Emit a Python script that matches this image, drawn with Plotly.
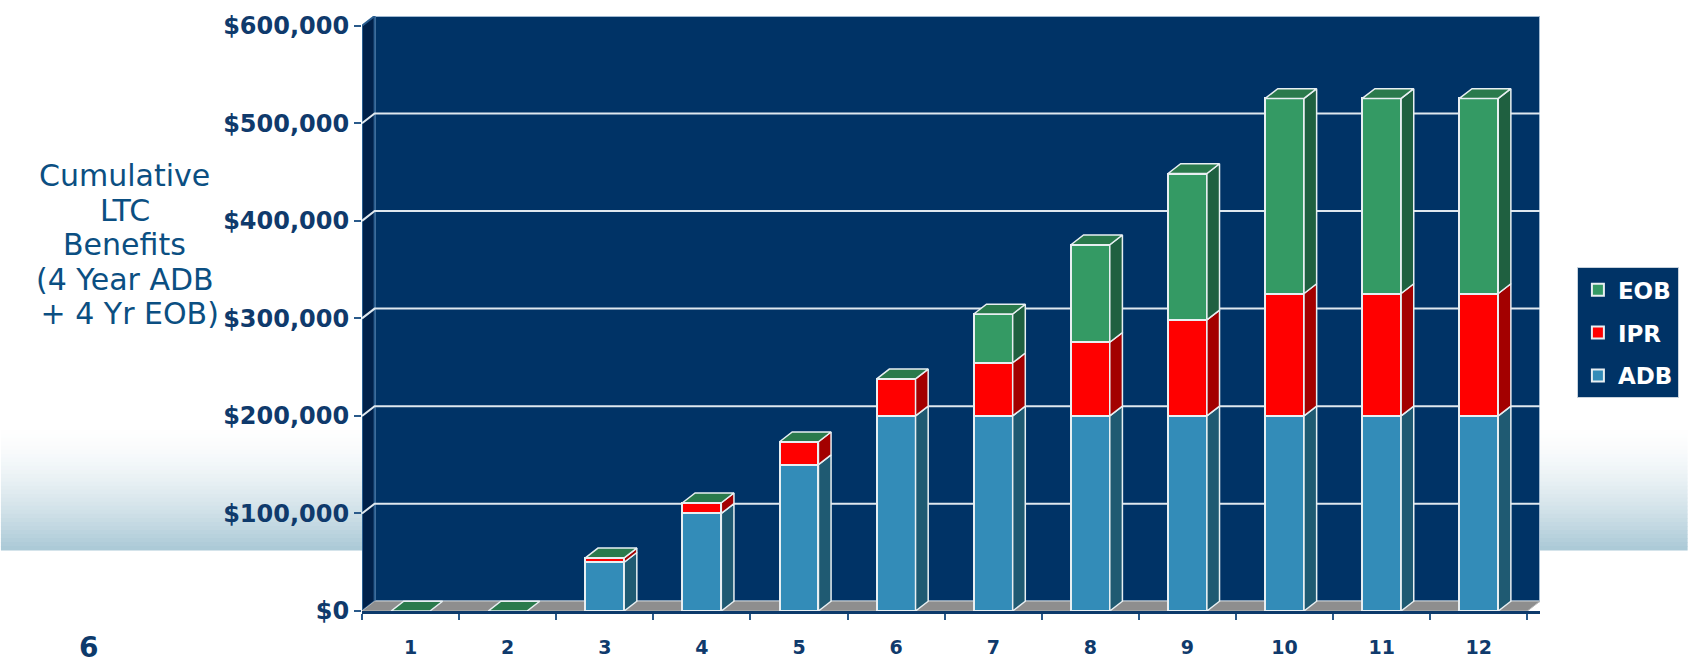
import plotly.graph_objects as go

# ---------------- data ----------------
categories = list(range(1, 13))
x_tick_labels = [str(c) for c in categories]
adb = [0, 0, 50000, 100000, 150000, 200000, 200000, 200000, 200000, 200000, 200000, 200000]
ipr = [0, 0, 4500, 11000, 23500, 38000, 54500, 75500, 98500, 125500, 125500, 125500]
eob = [0, 0, 0, 0, 0, 0, 50000, 100000, 150000, 200000, 200000, 200000]
y_ticks = [0, 100000, 200000, 300000, 400000, 500000, 600000]
y_tick_labels = ["$0", "$100,000", "$200,000", "$300,000", "$400,000", "$500,000", "$600,000"]
series_names = ["ADB", "IPR", "EOB"]
legend_rank = {"EOB": 1, "IPR": 2, "ADB": 3}
title_lines = ["Cumulative", "LTC", "Benefits", "(4 Year ADB", " + 4 Yr EOB)"]

# ---------------- style ----------------
W, H = 1691, 670
L, R, T, B = 362, 148, 15, 51
PW, PH = W - L - R, H - T - B
BW = 0.40          # bar front width (category units)
DX = 0.13          # depth offset in x (category units)
DY = 10000         # depth offset in y (value units)
EDGE = "#e8eff2"
NAVY = "#003366"
LABEL = "#0f3a6c"
front_col = {"ADB": "#338cb8", "IPR": "#ff0000", "EOB": "#349a64"}
side_col = {"ADB": "#1f5a72", "IPR": "#a30000", "EOB": "#1f6040"}
top_col = {"ADB": "#2b7799", "IPR": "#c80000", "EOB": "#2a7a4c"}

values = {"ADB": adb, "IPR": ipr, "EOB": eob}

fig = go.Figure()

# front faces via stacked bars
for name in series_names:
    fig.add_trace(go.Bar(
        x=categories, y=values[name], name=name, width=BW,
        legendgroup=name, legendrank=legend_rank[name],
        marker=dict(color=front_col[name], line=dict(color=EDGE, width=2)),
        hoverinfo="skip",
    ))

# side faces (computed from data)
bases = [0] * len(categories)
for name in series_names:
    xs, ys = [], []
    for i, c in enumerate(categories):
        b = bases[i]
        t = b + values[name][i]
        if t > b:
            xr = c + BW / 2
            xs += [xr, xr + DX, xr + DX, xr, xr, None]
            ys += [b, b + DY, t + DY, t, b, None]
        bases[i] = t
    fig.add_trace(go.Scatter(
        x=xs, y=ys, mode="lines", fill="toself", fillcolor=side_col[name],
        line=dict(color=EDGE, width=1.5), showlegend=False, hoverinfo="skip",
    ))

# top faces
totals = [a + b + c for a, b, c in zip(adb, ipr, eob)]
xs, ys = [], []
for c, tot in zip(categories, totals):
    xl, xr = c - BW / 2, c + BW / 2
    xs += [xl, xl + DX, xr + DX, xr, xl, None]
    ys += [tot, tot + DY, tot + DY, tot, tot, None]
fig.add_trace(go.Scatter(
    x=xs, y=ys, mode="lines", fill="toself", fillcolor=top_col["EOB"],
    line=dict(color=EDGE, width=1.5), showlegend=False, hoverinfo="skip",
))

# ---------------- background shapes ----------------
shapes = []

def px_to_py(py):
    return (H - B - py) / PH

def px_to_px(px):
    return (px - L) / PW

# light gradient band across the page
y_top, y_bot = 435, 557
steps = 30
c0 = (255, 255, 255)
c1 = (172, 202, 215)
for k in range(steps):
    t = (k + 1) / steps
    t2 = t ** 1.6
    col = tuple(int(c0[j] + (c1[j] - c0[j]) * t2) for j in range(3))
    ya = y_top + (y_bot - y_top) * k / steps
    yb = y_top + (y_bot - y_top) * (k + 1) / steps + 0.6
    shapes.append(dict(type="rect", xref="paper", yref="paper", layer="below",
                       x0=px_to_px(0), x1=px_to_px(W), y0=px_to_py(yb), y1=px_to_py(ya),
                       fillcolor="rgb(%d,%d,%d)" % col, line=dict(width=0)))

x_lo, x_hi = 0.5, categories[-1] + 0.5
y_max = y_ticks[-1]
# back wall
shapes.append(dict(type="rect", xref="x", yref="y", layer="below",
                   x0=x_lo + DX, x1=x_hi + DX, y0=DY, y1=y_max + DY,
                   fillcolor=NAVY, line=dict(color="#9fb8d0", width=2)))
# left wall
shapes.append(dict(type="path", xref="x", yref="y", layer="below",
                   path="M %f,%f L %f,%f L %f,%f L %f,%f Z" % (
                       x_lo, 0, x_lo + DX, DY, x_lo + DX, y_max + DY, x_lo, y_max),
                   fillcolor="#00214a", line=dict(color="#2a5e90", width=2)))
# gridlines on walls
for v in y_ticks[1:-1]:
    shapes.append(dict(type="path", xref="x", yref="y", layer="below",
                       path="M %f,%f L %f,%f L %f,%f" % (
                           x_lo, v, x_lo + DX, v + DY, x_hi + DX, v + DY),
                       line=dict(color="#dfe8ef", width=2)))
# floor
shapes.append(dict(type="path", xref="x", yref="y", layer="below",
                   path="M %f,%f L %f,%f L %f,%f L %f,%f Z" % (
                       x_lo, 0, x_lo + DX, DY, x_hi + DX, DY, x_hi, 0),
                   fillcolor="#8e8e8e", line=dict(color="#b8b8b8", width=1)))

fig.update_layout(shapes=shapes)

# ---------------- text ----------------
line_y0, line_step = 177, 35
for k, txt in enumerate(title_lines):
    fig.add_annotation(
        xref="paper", yref="paper", x=px_to_px(124), y=px_to_py(line_y0 + k * line_step),
        text=txt, showarrow=False, align="center", xanchor="center", yanchor="middle",
        font=dict(family="DejaVu Sans", size=30, color="#0b4f82"),
    )
fig.add_annotation(
    xref="paper", yref="paper", x=px_to_px(88), y=px_to_py(656),
    text="6", showarrow=False, xanchor="center", yanchor="middle",
    font=dict(family="DejaVu Sans", size=28, color="#0d3a6b", weight="bold"),
)

fig.update_layout(
    width=W, height=H,
    margin=dict(l=L, r=R, t=T, b=B, pad=0),
    paper_bgcolor="white", plot_bgcolor="rgba(0,0,0,0)",
    barmode="stack",
    showlegend=True,
    legend=dict(
        x=px_to_px(1580), y=px_to_py(270), xanchor="left", yanchor="top",
        bgcolor=NAVY, bordercolor="#c8d2dc", borderwidth=1,
        traceorder="grouped", tracegroupgap=10,
        font=dict(family="DejaVu Sans", size=23, color="white", weight="bold"),
        itemwidth=30,
    ),
    xaxis=dict(
        range=[x_lo, x_hi + DX], tickmode="array", tickvals=categories, ticktext=x_tick_labels,
        ticks="", showgrid=False, zeroline=False, showline=True,
        linecolor="#0d3a6b", linewidth=3,
        minor=dict(tickmode="array", tickvals=[c - 0.5 for c in categories] + [x_hi],
                   ticks="outside", ticklen=6, tickcolor="#2a5a8a", tickwidth=2, showgrid=False),
        tickfont=dict(family="DejaVu Sans", size=19, color=LABEL, weight="bold"),
        ticklabelstandoff=17, fixedrange=True,
    ),
    yaxis=dict(
        range=[0, y_max + DY], tickmode="array", tickvals=y_ticks, ticktext=y_tick_labels,
        ticks="outside", ticklen=7, tickcolor="#2a5a8a", tickwidth=2,
        showgrid=False, zeroline=False, showline=False,
        tickfont=dict(family="DejaVu Sans", size=24, color=LABEL, weight="bold"),
        ticklabelstandoff=0, fixedrange=True,
    ),
)

page_fix = (
    "var de=document.documentElement, bd=document.body;"
    "de.style.margin='0'; de.style.padding='0'; de.style.overflow='hidden'; de.style.height='670px';"
    "bd.style.margin='0'; bd.style.padding='0'; bd.style.overflow='hidden'; bd.style.height='670px';"
)
fig.write_html("out.html", config={"displayModeBar": False}, post_script=page_fix)
